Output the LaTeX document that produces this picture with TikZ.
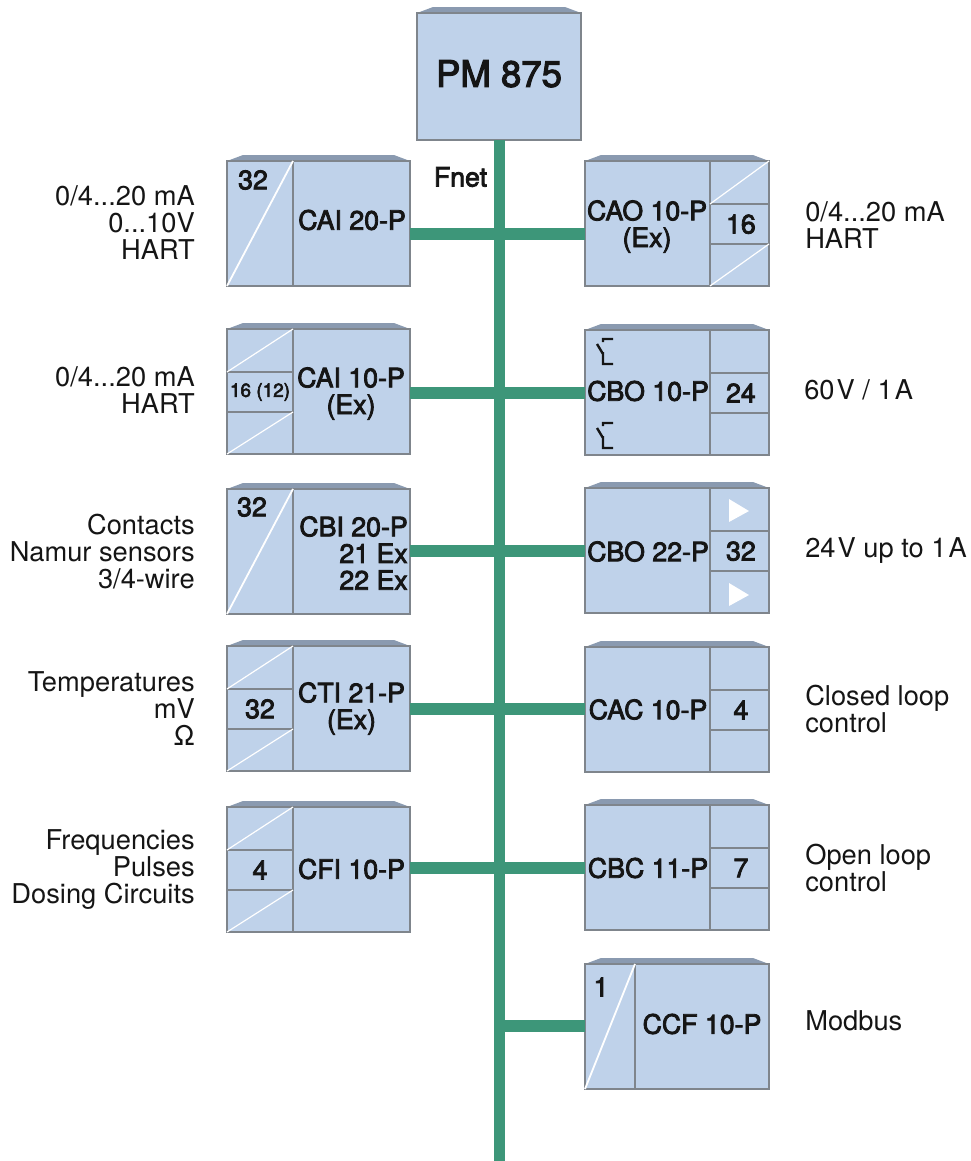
\documentclass[tikz,border=0pt]{standalone}
\usepackage{fontspec}
\setmainfont{TeX Gyre Heros}
\newfontfamily\medfont[FakeBold=3]{TeX Gyre Heros}
\usetikzlibrary{backgrounds}
\definecolor{Pale}{HTML}{BFD2EA}
\definecolor{Edge}{HTML}{7F858C}
\definecolor{Bevel}{HTML}{8A9AB0}
\definecolor{Bus}{HTML}{3D9679}
\definecolor{Ink}{HTML}{151515}

\begin{document}
\begin{tikzpicture}[
  x=0.25mm,y=-0.25mm,
  box/.style={draw=Edge,fill=Pale,line width=0.4mm,inner sep=0pt,outer sep=0pt,
    anchor=north west,text=Ink,font=\fontsize{19}{19}\medfont,align=center},
  head/.style={box,minimum width=41mm,minimum height=31.75mm,text depth=4.3pt,
    font=\fontsize{26}{26}\medfont},
  bodyl/.style={box,minimum width=29.25mm,minimum height=31.25mm},
  bodyr/.style={box,minimum width=31.25mm,minimum height=31.25mm},
  tall/.style={box,minimum width=16.5mm,minimum height=31.25mm},
  tallc/.style={box,minimum width=12.5mm,minimum height=31.25mm},
  bodyc/.style={box,minimum width=33.5mm,minimum height=31.25mm},
  upper/.style={box,minimum height=10.75mm},
  middle/.style={box,minimum height=10mm},
  lower/.style={box,minimum height=10.5mm},
  celll/.style={minimum width=16.5mm},
  cellr/.style={minimum width=14.75mm},
  tag/.style={inner sep=0pt,text=Ink,font=\fontsize{19}{19}\medfont,align=center},
  note/.style={inner sep=0pt,text=Ink,font=\fontsize{19.4}{19.2}\selectfont},
  notel/.style={note,anchor=east,align=right},
  noter/.style={note,anchor=west,align=left},
  bevel/.style={fill=Bevel},
  diag/.style={draw=white,line width=0.45mm},
  thin diag/.style={draw=white,line width=0.3mm},
  bus/.style={draw=Bus,line width=2.75mm},
  stub/.style={draw=Bus,line width=3mm},
  contact/.style={draw=Ink,line width=0.6mm}
]
\useasboundingbox (0,0) rectangle (970,1161);

% Bus and its junctions.
\coordinate (busend) at (499.5,1161);
\coordinate (j1) at (499.5,234);
\coordinate (j2) at (499.5,393);
\coordinate (j3) at (499.5,551);
\coordinate (j4) at (499.5,709);
\coordinate (j5) at (499.5,868);
\coordinate (j6) at (499.5,1026);

% Head unit.
\node[head] (pm) at (417,13) {PM 875};
\node[tag] (fnet) at (460.5,177) {Fnet};

% Left column.
\node[tall] (cai20c) at (227,161) {};
\node[bodyl] (cai20) at (293,161) {};
\node[tag] (cai20n) at (253,180) {32};
\node[tall] (cbi20c) at (227,489) {};
\node[bodyl] (cbi20) at (293,489) {};
\node[tag] (cbi20n) at (252,507) {32};
\draw[diag] (cai20c.south west) -- (cai20c.north east);
\draw[diag] (cbi20c.south west) -- (cbi20c.north east);

\foreach \name/\y/\num in {cai10/329/{\fontsize{13.5}{13.5}\selectfont 16 (12)},cti21/646/32,cfi10/807/4}{
  \node[upper,celll] (\name a) at (227,\y) {};
  \node[middle,celll] (\name b) at (227,\y+43) {\num};
  \node[lower,celll] (\name c) at (227,\y+83) {};
  \node[bodyl] (\name) at (293,\y) {};
  \draw[thin diag] (\name a.south west) -- (\name a.north east);
  \draw[thin diag] (\name c.south west) -- (\name c.north east);
}

% Right column.
\foreach \name/\y/\num in {cao10/161/16,cbo10/330/24,cbo22/488/32,cac10/647/4,cbc11/805/7}{
  \node[bodyr] (\name) at (585,\y) {};
  \node[upper,cellr] (\name a) at (710,\y) {};
  \node[middle,cellr,text depth=0pt] (\name b) at (710,\y+43) {\hspace{2pt}\num};
  \node[lower,cellr] (\name c) at (710,\y+83) {};
}
\draw[thin diag] (cao10a.south west) -- (cao10a.north east);
\draw[thin diag] (cao10c.south west) -- (cao10c.north east);
\node[tallc] (ccf10c) at (585,964) {};
\node[bodyc] (ccf10) at (635,964) {};
\node[tag] (ccf10n) at (601,987) {1};
\draw[diag] (ccf10c.south west) -- (ccf10c.north east);

% Type names.
\node[tag] (cai20t) at (352,220) {CAI 20-P};
\node[tag] (cai10t) at (351,393.5) {CAI 10-P\\(Ex)};
\node[tag,align=right,anchor=east] (cbi20t) at (408,553) {CBI 20-P\\21 Ex\\22 Ex};
\node[tag] (cti21t) at (351.5,708.5) {CTI 21-P\\(Ex)};
\node[tag] (cfi10t) at (351.5,869) {CFI 10-P};
\node[tag] (cao10t) at (647,226.5) {CAO 10-P\\(Ex)};
\node[tag] (cbo10t) at (648,391) {CBO 10-P};
\node[tag] (cbo22t) at (648,551.5) {CBO 22-P};
\node[tag] (cac10t) at (648,709.5) {CAC 10-P};
\node[tag] (cbc11t) at (648,868) {CBC 11-P};
\node[tag] (ccf10t) at (702,1024) {CCF 10-P};

% Contacts and drivers.
\foreach \d in {0,84}{
  \draw[contact] (603,342+\d) -- (603,339+\d) -- (613,339+\d)
    (597,344+\d) -- (603,354+\d) (603,352+\d) -- (603,364+\d) -- (613,364+\d);
}
\fill[white] (729,499) -- (749,511) -- (729,522) -- cycle;
\fill[white] (729,583) -- (749,595) -- (729,606) -- cycle;

% Top faces.
\begin{scope}[on background layer]
\foreach \a/\b in {pm/pm,cai20c/cai20,cai10a/cai10,cbi20c/cbi20,cti21a/cti21,cfi10a/cfi10,
    cao10/cao10a,cbo10/cbo10a,cbo22/cbo22a,cac10/cac10a,cbc11/cbc11a,ccf10c/ccf10}{
  \fill[bevel] (\a.north west) -- ++(16,-6) -- ([xshift=-4mm,yshift=1.5mm]\b.north east)
    -- (\b.north east) -- cycle;
}
\end{scope}

% Bus lines.
\draw[bus] (pm.south -| busend) -- (busend);
\draw[stub] (cai20.east |- j1) -- (j1);
\draw[stub] (cai10.east |- j2) -- (j2);
\draw[stub] (cbi20.east |- j3) -- (j3);
\draw[stub] (cti21.east |- j4) -- (j4);
\draw[stub] (cfi10.east |- j5) -- (j5);
\draw[stub] (cao10.west |- j1) -- (j1);
\draw[stub] (cbo10.west |- j2) -- (j2);
\draw[stub] (cbo22.west |- j3) -- (j3);
\draw[stub] (cac10.west |- j4) -- (j4);
\draw[stub] (cbc11.west |- j5) -- (j5);
\draw[stub] (ccf10c.west |- j6) -- (j6);

% Signal notes.
\node[notel] (n1) at (195,223) {0/4...20 mA\\0...10V\\HART};
\node[notel] (n2) at (195,390) {0/4...20 mA\\HART};
\node[notel] (n3) at (195,552) {Contacts\\Namur sensors\\3/4-wire};
\node[notel] (n4) at (195,709) {Temperatures\\mV\\Ω};
\node[notel] (n5) at (195,870) {Frequencies\\Pulses\\Dosing Circuits};
\node[noter] (n6) at (805,225) {0/4...20 mA\\HART};
\node[noter] (n7) at (804,390) {60\kern1.5pt V / 1\kern1.5pt A};
\node[noter] (n8) at (805,551) {24\kern1.5pt V up to 1\kern1.5pt A};
\node[noter] (n9) at (805,709) {Closed loop\\control};
\node[noter] (n10) at (805,868) {Open loop\\control};
\node[noter] (n11) at (805,1021) {Modbus};
\end{tikzpicture}
\end{document}
